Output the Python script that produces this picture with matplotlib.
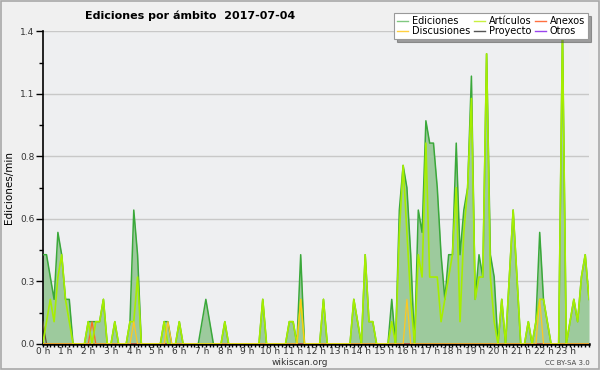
import numpy as np
import matplotlib
matplotlib.use("Agg")
import matplotlib.pyplot as plt
from matplotlib.lines import Line2D
from matplotlib.ticker import MultipleLocator, FixedLocator
import matplotlib.transforms as mtransforms

plt.rcParams['font.family'] = ['DejaVu Sans']

# edits per minute, one value every 10 minutes (6 per hour), last value = 24:00
ediciones = [
    0.4, 0.4, 0.3, 0.2, 0.5, 0.4,   # 0 h
    0.2, 0.2, 0, 0, 0, 0,           # 1 h
    0.1, 0.1, 0.1, 0.1, 0.2, 0,     # 2 h
    0, 0.1, 0, 0, 0, 0.1,           # 3 h
    0.6, 0.4, 0, 0, 0, 0,           # 4 h
    0, 0, 0.1, 0.1, 0, 0,           # 5 h
    0.1, 0, 0, 0, 0, 0,             # 6 h
    0.1, 0.2, 0.1, 0, 0, 0,         # 7 h
    0.1, 0, 0, 0, 0, 0,             # 8 h
    0, 0, 0, 0, 0.2, 0,             # 9 h
    0, 0, 0, 0, 0, 0.1,             # 10 h
    0.1, 0, 0.4, 0, 0, 0,           # 11 h
    0, 0, 0.2, 0, 0, 0,             # 12 h
    0, 0, 0, 0, 0.2, 0.1,           # 13 h
    0, 0.4, 0.1, 0.1, 0, 0,         # 14 h
    0, 0, 0.2, 0, 0.6, 0.8,         # 15 h
    0.7, 0.4, 0, 0.6, 0.5, 1.0,     # 16 h
    0.9, 0.9, 0.7, 0.4, 0.2, 0.4,   # 17 h
    0.4, 0.9, 0.4, 0.6, 0.7, 1.2,   # 18 h
    0.2, 0.4, 0.3, 1.3, 0.4, 0.3,   # 19 h
    0, 0.2, 0, 0.3, 0.6, 0.3,       # 20 h
    0, 0, 0.1, 0, 0.1, 0.5,         # 21 h
    0.2, 0.1, 0, 0, 0, 1.4,         # 22 h
    0, 0.1, 0.2, 0.1, 0.3, 0.4,     # 23 h
    0.2,
]

articulos = [
    0, 0.1, 0.2, 0.1, 0.3, 0.4,
    0.2, 0.1, 0, 0, 0, 0,
    0.1, 0, 0.1, 0.1, 0.2, 0,
    0, 0.1, 0, 0, 0, 0.1,
    0.1, 0.3, 0, 0, 0, 0,
    0, 0, 0.1, 0, 0, 0,
    0.1, 0, 0, 0, 0, 0,
    0, 0, 0, 0, 0, 0,
    0.1, 0, 0, 0, 0, 0,
    0, 0, 0, 0, 0.2, 0,
    0, 0, 0, 0, 0, 0.1,
    0.1, 0, 0.2, 0, 0, 0,
    0, 0, 0.2, 0, 0, 0,
    0, 0, 0, 0, 0.2, 0.1,
    0, 0.4, 0.1, 0.1, 0, 0,
    0, 0, 0.1, 0, 0.5, 0.8,
    0.5, 0.2, 0, 0.4, 0.3, 0.9,
    0.3, 0.3, 0.3, 0.1, 0.2, 0.3,
    0.4, 0.7, 0.1, 0.5, 0.7, 1.1,
    0.2, 0.3, 0.3, 1.3, 0.3, 0.1,
    0, 0.2, 0, 0.3, 0.6, 0.3,
    0, 0, 0.1, 0, 0.1, 0.2,
    0.2, 0.1, 0, 0, 0, 1.4,
    0, 0.1, 0.2, 0.1, 0.3, 0.4,
    0.2,
]

# sparse series: bin index -> value
discusiones = {24: 0.1, 33: 0.1, 68: 0.2, 96: 0.2, 131: 0.2}
anexos = {13: 0.1}
proyecto = {0: 0.1}
otros = {}

labels = ['Ediciones', 'Discusiones', 'Artículos', 'Proyecto', 'Anexos', 'Otros']
hour_labels = ['%d h' % h for h in range(24)]

n = len(ediciones)
x = np.arange(n) / 6.0


def dense(d):
    arr = np.zeros(n)
    for k, v in d.items():
        arr[k] = v
    return arr


fig = plt.figure(figsize=(6, 3.7), dpi=100, facecolor='#f0f0f0')
ax = fig.add_axes([0.0712, 0.0703, 0.9105, 0.8446])
ax.set_facecolor('#eeeff1')

# frame around the image
fig.patches.append(plt.Rectangle((0.001, 0.002), 0.997, 0.995, transform=fig.transFigure,
                                 fill=False, edgecolor='#a8a8a8', lw=1.2))

ax.fill_between(x, ediciones, color='#9dca9d', lw=0, zorder=1)
ax.plot(x, ediciones, color='#3aa83a', lw=1.1, zorder=3)
ax.plot(x, dense(proyecto), color='#665533', lw=0.9, zorder=3)
ax.plot(x, dense(anexos), color='#ff6a20', lw=0.9, zorder=3)
ax.plot(x, dense(otros), color='#9944ee', lw=0.9, zorder=3)
ax.plot(x, articulos, color='#a6ee00', lw=1.2, zorder=4)
ax.plot(x, dense(discusiones), color='#ffc820', lw=0.9, zorder=5)

ax.set_xlim(0, 24)
ax.set_ylim(0, 1.4)

yt = np.linspace(0, 1.4, 6)
ax.yaxis.set_major_locator(FixedLocator(yt))
ax.set_yticklabels(['%.1f' % v for v in yt], fontsize=6.5, color='#333333')
ax.yaxis.set_minor_locator(FixedLocator((yt[:-1] + yt[1:]) / 2))
ax.grid(axis='y', color='#c8c8c8', lw=1)
ax.set_axisbelow(True)

ax.xaxis.set_major_locator(FixedLocator(range(24)))
ax.set_xticklabels(hour_labels, fontsize=6.5, color='#333333')
ax.xaxis.set_minor_locator(MultipleLocator(1 / 6.0))
offset = mtransforms.ScaledTranslation(3 / 100, 0, fig.dpi_scale_trans)
for lab in ax.get_xticklabels():
    lab.set_transform(lab.get_transform() + offset)

ax.tick_params(axis='x', which='both', length=2.5, width=1, pad=0)
ax.tick_params(axis='y', which='major', length=5, width=1, pad=1)
ax.tick_params(axis='y', which='minor', length=3, width=1)

for s in ['top', 'right']:
    ax.spines[s].set_visible(False)
ax.spines['left'].set_linewidth(1.2)
ax.spines['bottom'].set_linewidth(1.8)

ax.set_ylabel('Ediciones/min', fontsize=7.5, labelpad=4)

fig.text(0.142, 0.958, 'Ediciones por ámbito  2017-07-04', fontsize=8,
         fontweight='bold', ha='left', va='center')
fig.text(0.5, 0.02, 'wikiscan.org', fontsize=6.5, ha='center', va='center', color='#333333')
fig.text(0.983, 0.02, 'CC BY-SA 3.0', fontsize=5, ha='right', va='center', color='#444444')

colors = ['#80c880', '#ffd040', '#c8f040', '#555555', '#ff7040', '#9944ee']
handles = [Line2D([0], [0], color=c, lw=1) for c in colors]
leg = fig.legend(handles, labels, ncol=3, loc='upper right', bbox_to_anchor=(0.988, 0.978),
                 fontsize=7, frameon=True, fancybox=False, shadow=True, handlelength=1.1,
                 handletextpad=0.4, columnspacing=0.4, labelspacing=0.05, borderpad=0.3)
leg.get_frame().set_edgecolor('#999999')
leg.get_frame().set_linewidth(0.8)

fig.savefig('out.png', dpi=100, facecolor=fig.get_facecolor())
